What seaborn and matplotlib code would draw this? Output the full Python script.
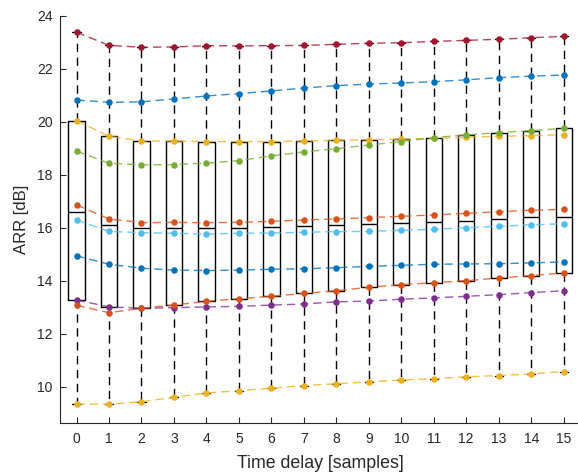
import numpy as np
import pandas as pd
import matplotlib
matplotlib.use("Agg")
import matplotlib.pyplot as plt
import seaborn as sns

# time delay in samples
delays = list(range(16))

# ARR [dB] per condition
s1 = [20.82, 20.73, 20.75, 20.86, 20.97, 21.06, 21.16, 21.27, 21.36, 21.42, 21.46, 21.51, 21.58, 21.66, 21.72, 21.76]
s2 = [16.86, 16.33, 16.19, 16.20, 16.19, 16.20, 16.24, 16.29, 16.33, 16.38, 16.43, 16.48, 16.54, 16.60, 16.66, 16.69]
s3 = [20.04, 19.45, 19.27, 19.27, 19.25, 19.25, 19.25, 19.27, 19.30, 19.32, 19.34, 19.37, 19.41, 19.45, 19.47, 19.51]
s4 = [13.27, 13.01, 12.96, 12.98, 13.01, 13.03, 13.08, 13.12, 13.20, 13.23, 13.30, 13.35, 13.41, 13.47, 13.55, 13.62]
s5 = [18.89, 18.43, 18.37, 18.38, 18.44, 18.53, 18.71, 18.86, 18.98, 19.12, 19.25, 19.40, 19.50, 19.59, 19.66, 19.75]
s6 = [16.29, 15.86, 15.81, 15.79, 15.76, 15.79, 15.80, 15.83, 15.85, 15.86, 15.90, 15.94, 16.00, 16.05, 16.11, 16.15]
s7 = [23.38, 22.88, 22.81, 22.82, 22.87, 22.86, 22.87, 22.88, 22.92, 22.96, 22.98, 23.03, 23.07, 23.11, 23.17, 23.22]
s8 = [14.94, 14.62, 14.47, 14.40, 14.38, 14.40, 14.43, 14.45, 14.49, 14.54, 14.58, 14.62, 14.63, 14.64, 14.67, 14.71]
s9 = [13.07, 12.79, 12.96, 13.08, 13.22, 13.32, 13.41, 13.52, 13.62, 13.75, 13.85, 13.92, 14.00, 14.10, 14.19, 14.29]
s10 = [9.34, 9.34, 9.43, 9.60, 9.76, 9.85, 9.94, 10.04, 10.11, 10.18, 10.25, 10.30, 10.37, 10.42, 10.48, 10.57]

series = [s1, s2, s3, s4, s5, s6, s7, s8, s9, s10]
# matlab default colour order, cycling
colors = ["#0072BD", "#D95319", "#EDB120", "#7E2F8E", "#77AC30",
          "#4DBEEE", "#A2142F", "#0072BD", "#D95319", "#EDB120"]

sns.set_theme(style="ticks")
plt.rcParams["font.family"] = ["Liberation Sans", "DejaVu Sans"]

fig = plt.figure(figsize=(5.78, 4.76), dpi=100)
ax = fig.add_axes([0.1043, 0.112, 0.899, 0.855])

# box stats with matlab style quartiles (hazen)
data = np.array(series)
stats = []
for i, d in enumerate(delays):
    col = data[:, i]
    stats.append({
        "med": np.median(col),
        "q1": np.percentile(col, 25, method="hazen"),
        "q3": np.percentile(col, 75, method="hazen"),
        "whislo": col.min(),
        "whishi": col.max(),
        "fliers": [],
    })

ax.bxp(stats, positions=delays, widths=0.5, capwidths=0.25, showfliers=False,
       boxprops=dict(color="black", linewidth=1.0),
       medianprops=dict(color="black", linewidth=1.0),
       whiskerprops=dict(color="black", linewidth=1.0, linestyle=(0, (6, 4))),
       capprops=dict(color="black", linewidth=1.0),
       manage_ticks=False)

for vals, c in zip(series, colors):
    sns.lineplot(x=delays, y=vals, ax=ax, color=c, linewidth=1.0, alpha=0.8,
                 linestyle=(0, (6, 3.5)))
    sns.scatterplot(x=delays, y=vals, ax=ax, color=c, s=22, linewidth=0, zorder=3)

ax.set_xlim(-0.5, 15.5)
ax.set_ylim(8.64, 24)
ax.set_xticks(delays)
ax.set_yticks(range(10, 25, 2))
ax.set_xlabel("Time delay [samples]", fontsize=12.8, color="#262626", labelpad=6.5)
ax.set_ylabel("ARR [dB]", fontsize=12, color="#262626", labelpad=6)
ax.tick_params(direction="in", length=4, width=0.8, labelsize=10, colors="#262626")
ax.tick_params(axis="x", pad=7)
ax.tick_params(axis="y", pad=5.5)
for side in ["top", "right"]:
    ax.spines[side].set_visible(False)
for side in ["left", "bottom"]:
    ax.spines[side].set_color("#262626")
    ax.spines[side].set_linewidth(0.8)

fig.savefig("out.png", dpi=100)
